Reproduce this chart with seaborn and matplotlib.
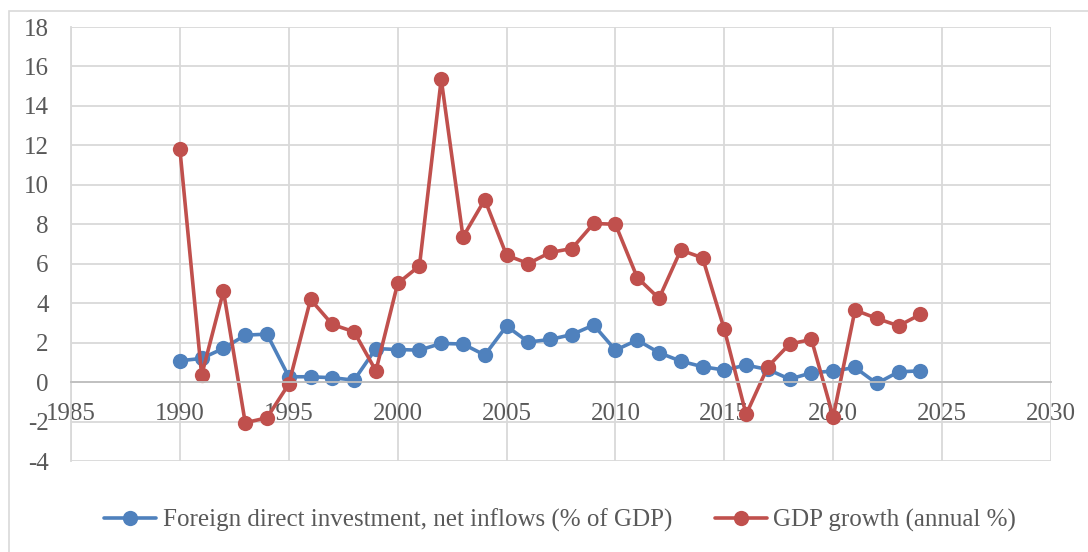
import matplotlib
matplotlib.use("Agg")
import matplotlib.pyplot as plt
from matplotlib.patches import Rectangle
import pandas as pd
import seaborn as sns

years = list(range(1990, 2025))
fdi = [1.08, 1.20, 1.71, 2.38, 2.43, 0.27, 0.27, 0.22, 0.10, 1.70,
       1.65, 1.62, 1.96, 1.93, 1.37, 2.84, 2.03, 2.16, 2.41, 2.89,
       1.62, 2.13, 1.49, 1.06, 0.78, 0.61, 0.86, 0.64, 0.15, 0.47,
       0.56, 0.74, -0.07, 0.52, 0.57]
gdp = [11.80, 0.35, 4.61, -2.06, -1.81, -0.10, 4.19, 2.92, 2.55, 0.57,
       5.00, 5.89, 15.35, 7.36, 9.25, 6.43, 6.01, 6.57, 6.77, 8.04,
       8.00, 5.30, 4.24, 6.69, 6.30, 2.67, -1.64, 0.78, 1.93, 2.16,
       -1.76, 3.65, 3.23, 2.85, 3.43]

fdi_label = "Foreign direct investment, net inflows (% of GDP)"
gdp_label = "GDP growth (annual %)"

df = pd.DataFrame({"year": years, fdi_label: fdi, gdp_label: gdp})
long = df.melt(id_vars="year", var_name="series", value_name="value")

sns.set_style("white")
plt.rcParams["font.family"] = ["Liberation Serif", "DejaVu Serif"]
plt.rcParams["axes.unicode_minus"] = False

fig = plt.figure(figsize=(10.88, 5.52), dpi=100)
ax = fig.add_axes([71/1088, 1 - 461/552, (1051-71)/1088, (461-27)/552])

# outer chart border (partly cut off in the original)
fig.add_artist(Rectangle((9/1088, -0.1), 1.2, 1.1 - 11/552, transform=fig.transFigure,
                         fill=False, edgecolor="#d9d9d9", linewidth=1.2, zorder=0))

sns.lineplot(data=long, x="year", y="value", hue="series",
             hue_order=[fdi_label, gdp_label],
             palette=["#4f81bd", "#c0504d"], marker="o", markersize=11,
             markeredgewidth=0, linewidth=2.6, ax=ax)

ax.set_xlim(1985, 2030)
ax.set_ylim(-4, 18)
ax.set_xticks(range(1985, 2031, 5))
ax.set_yticks(range(-4, 19, 2))
ax.grid(True, color="#d9d9d9", linewidth=1.3)
ax.set_axisbelow(True)
for s in ["top", "right"]:
    ax.spines[s].set_visible(False)
ax.spines["left"].set_color("#d9d9d9")
ax.spines["left"].set_linewidth(1.3)
ax.spines["bottom"].set_position(("data", 0))
ax.spines["bottom"].set_color("#bfbfbf")
ax.spines["bottom"].set_linewidth(1.3)
ax.tick_params(axis="both", length=0, labelsize=18, labelcolor="#595959")
ax.tick_params(axis="y", pad=16)
ax.tick_params(axis="x", pad=15)
ax.set_xlabel("")
ax.set_ylabel("")

ax.legend_.remove()
handles, labels = ax.get_legend_handles_labels()
fig.legend(handles, labels, loc="center", bbox_to_anchor=(560/1088, 1 - 520/552),
           ncol=2, frameon=False, fontsize=18, labelcolor="#595959",
           handlelength=2.1, handletextpad=0.25, columnspacing=1.7)

fig.savefig("out.png", dpi=100)
